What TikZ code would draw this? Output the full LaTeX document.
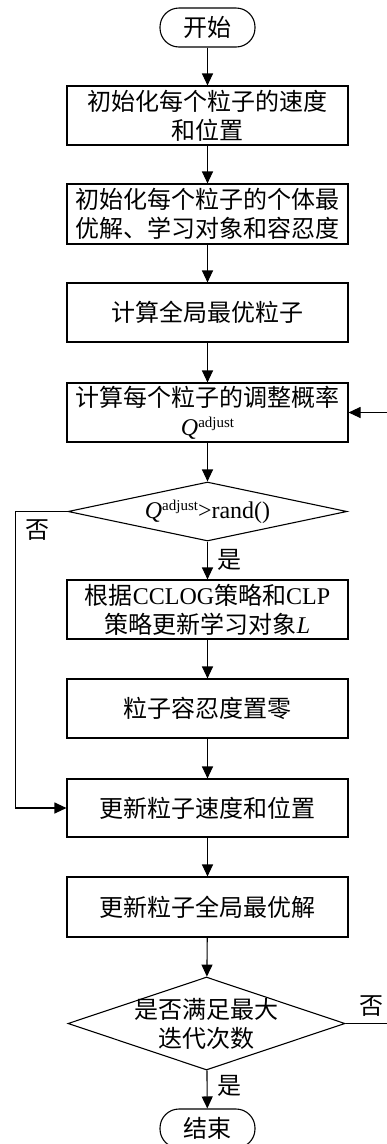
\documentclass[tikz,border=0pt]{standalone}
\usepackage{fontspec}
\setmainfont{Liberation Serif}
\newfontfamily\zh{Noto Sans CJK SC}
\newfontfamily\en{Liberation Serif}
\usetikzlibrary{arrows.meta,shapes.geometric}
\newcommand{\Qadj}{{\en\itshape Q}{\en\raisebox{8pt}{\fontsize{15}{15}\selectfont adjust}}}
\begin{document}
\begin{tikzpicture}[x=1pt,y=-1pt,
  every node/.style={font=\zh\fontsize{24}{29}\selectfont},
  box/.style={draw,line width=1.1pt,minimum width=281pt,inner sep=0pt,align=center},
  term/.style={draw,line width=1.1pt,rounded corners=19pt,minimum width=95pt,minimum height=39pt,inner sep=0pt},
  dec/.style={draw,line width=1.1pt,diamond,inner sep=-8pt,align=center},
  arr/.style={line width=1.1pt,-{Triangle[length=12pt,width=11pt]}},
  lbl/.style={inner sep=0pt}]
\useasboundingbox (0,0) rectangle (387,1144);
\clip (0,0) rectangle (387,1144);
\node[term] (start) at (207.5,27.5) {开始};
\node[box,minimum height=59pt] (b1) at (207.5,115.5) {初始化每个粒子的速度\\和位置};
\node[box,minimum height=60pt] (b2) at (207.5,214) {初始化每个粒子的个体最\\优解、学习对象和容忍度};
\node[box,minimum height=59pt] (b3) at (207.5,312.5) {计算全局最优粒子};
\node[box,minimum height=59pt] (b4) at (207.5,412.5) {计算每个粒子的调整概率\\\Qadj};
\node[dec,minimum width=279pt,minimum height=59pt,aspect=4.73] (d1) at (207.5,511.5) {\Qadj{\en >rand()}};
\node[box,minimum height=59pt] (b5) at (207.5,609.5) {根据{\en CCLOG}策略和{\en CLP}\\策略更新学习对象{\en\itshape L}};
\node[box,minimum height=59pt] (b6) at (207.5,708.5) {粒子容忍度置零};
\node[box,minimum height=58pt] (b7) at (207.5,808) {更新粒子速度和位置};
\node[box,minimum height=60pt] (b8) at (207.5,907) {更新粒子全局最优解};
\node[dec,minimum width=277pt,minimum height=93pt,aspect=2.98] (d2) at (206.5,1023.5) {是否满足最大\\迭代次数};
\node[term] (stop) at (207.5,1128.5) {结束};
\node[lbl] (no1) at (37.5,530) {否};
\node[lbl] (yes1) at (229,560) {是};
\node[lbl] (no2) at (371,1006) {否};
\node[lbl] (yes2) at (229,1086) {是};
\draw[arr] (start) -- (b1);
\draw[arr] (b1) -- (b2);
\draw[arr] (b2) -- (b3);
\draw[arr] (b3) -- (b4);
\draw[arr] (b4) -- (d1);
\draw[arr] (d1) -- (b5);
\draw[arr] (b5) -- (b6);
\draw[arr] (b6) -- (b7);
\draw[arr] (b7) -- (b8);
\draw[arr] (b8) -- (d2);
\draw[arr] (d2) -- (stop);
\draw[arr] (d1.west) -- ++(-52,0) |- (b7.west);
\draw[arr] (d2.east) -- ++(50,0) |- (b4.east);
\end{tikzpicture}
\end{document}
